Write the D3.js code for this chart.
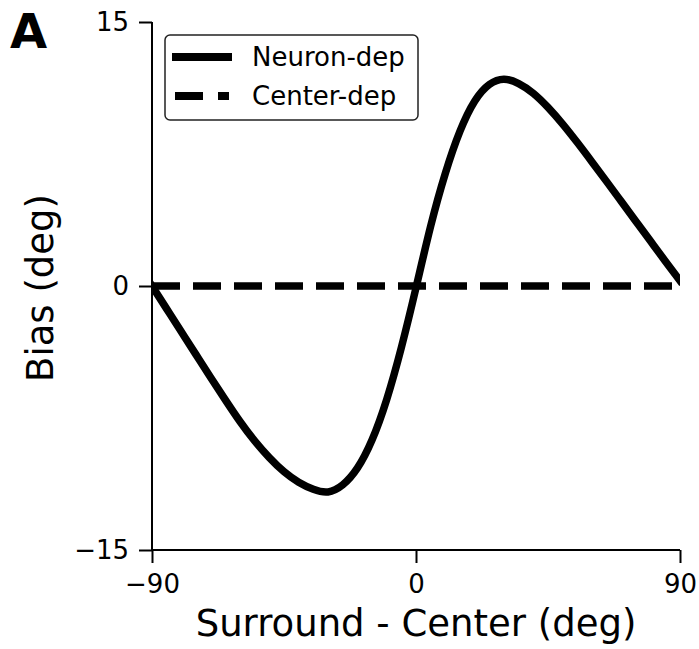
<!DOCTYPE html>
<html>
<head>
<meta charset="utf-8">
<script src="https://cdn.jsdelivr.net/npm/d3@7"></script>
<style>
  html, body { margin: 0; padding: 0; background: #fff; }
  svg { display: block; font-family: "DejaVu Sans", sans-serif; }
</style>
</head>
<body>
<svg id="chart" width="699" height="649"></svg>
<script>
// ---- data ----
const surroundMinusCenter = [-90,-85,-80,-75,-70,-65,-60,-55,-50,-45,-40,-35,-30,-25,-20,-15,-10,-5,0,5,10,15,20,25,30,35,40,45,50,55,60,65,70,75,80,85,90];
const neuronDepBias = [0,-1.3,-2.6,-3.9,-5.2,-6.47,-7.7,-8.8,-9.75,-10.55,-11.15,-11.55,-11.7,-11.3,-10.35,-8.75,-6.45,-3.5,-0.1,3.4,6.4,8.8,10.5,11.45,11.75,11.5,10.95,10.15,9.2,8.15,7.05,5.93,4.8,3.67,2.54,1.41,0.3];
const centerDepBias = [0,0,0,0,0,0,0,0,0,0,0,0,0,0,0,0,0,0,0,0,0,0,0,0,0,0,0,0,0,0,0,0,0,0,0,0,0];
const xTicks = [-90, 0, 90];
const yTicks = [-15, 0, 15];
const seriesNames = ["Neuron-dep", "Center-dep"];

// ---- layout ----
const svg = d3.select("#chart");
const pLeft = 152, pRight = 680, pTop = 22, pBottom = 550;
const x = d3.scaleLinear().domain([-90, 90]).range([pLeft, pRight]);
const y = d3.scaleLinear().domain([-15, 15]).range([pBottom, pTop]);

svg.append("defs").append("clipPath").attr("id", "clip")
  .append("rect").attr("x", pLeft).attr("y", pTop - 10).attr("width", pRight - pLeft).attr("height", pBottom - pTop + 20);

const line = d3.line().x((d, i) => x(surroundMinusCenter[i])).y(d => y(d)).curve(d3.curveNatural);

const g = svg.append("g").attr("clip-path", "url(#clip)");
g.append("path").datum(neuronDepBias).attr("d", line)
  .attr("fill", "none").attr("stroke", "#000").attr("stroke-width", 7.5)
  .attr("stroke-linecap", "square").attr("stroke-linejoin", "round");
g.append("path").datum(centerDepBias).attr("d", line)
  .attr("fill", "none").attr("stroke", "#000").attr("stroke-width", 7.5)
  .attr("stroke-dasharray", "28,13").attr("stroke-linecap", "butt");

// axes
const xAxis = d3.axisBottom(x).tickValues(xTicks).tickSize(13).tickPadding(12).tickFormat(d3.format("d"));
const yAxis = d3.axisLeft(y).tickValues(yTicks).tickSize(13).tickPadding(10).tickFormat(d3.format("d"));

const gx = svg.append("g").attr("transform", `translate(0,${pBottom})`).call(xAxis);
const gy = svg.append("g").attr("transform", `translate(${pLeft},0)`).call(yAxis);
[gx, gy].forEach(a => {
  a.attr("font-size", 26).attr("font-family", "DejaVu Sans");
  a.select(".domain").attr("stroke", "#000").attr("stroke-width", 2);
  a.selectAll(".tick line").attr("stroke", "#000").attr("stroke-width", 2);
  a.selectAll(".tick text").attr("fill", "#000");
});
gx.select(".domain").attr("d", `M${pLeft},0H${pRight}`);
gy.select(".domain").attr("d", `M0,${pTop}V${pBottom}`);

// labels
svg.append("text").attr("x", (pLeft + pRight) / 2).attr("y", 636).attr("text-anchor", "middle")
  .attr("font-size", 37).text("Surround - Center (deg)");
svg.append("text").attr("transform", `translate(53,288) rotate(-90)`).attr("text-anchor", "middle")
  .attr("font-size", 37).text("Bias (deg)");
svg.append("text").attr("x", 10).attr("y", 48).attr("font-size", 48).attr("font-weight", "bold").text("A");

// legend
const lg = svg.append("g");
lg.append("rect").attr("x", 165).attr("y", 35).attr("width", 253).attr("height", 85).attr("rx", 5)
  .attr("fill", "#fff").attr("stroke", "#222").attr("stroke-width", 1.5);
lg.append("line").attr("x1", 176).attr("x2", 228).attr("y1", 57).attr("y2", 57)
  .attr("stroke", "#000").attr("stroke-width", 8).attr("stroke-linecap", "square");
lg.append("line").attr("x1", 175).attr("x2", 229).attr("y1", 96).attr("y2", 96)
  .attr("stroke", "#000").attr("stroke-width", 8).attr("stroke-dasharray", "28,15");
lg.append("text").attr("x", 252).attr("y", 66).attr("font-size", 26).text(seriesNames[0]);
lg.append("text").attr("x", 252).attr("y", 105).attr("font-size", 26).text(seriesNames[1]);
</script>
</body>
</html>
